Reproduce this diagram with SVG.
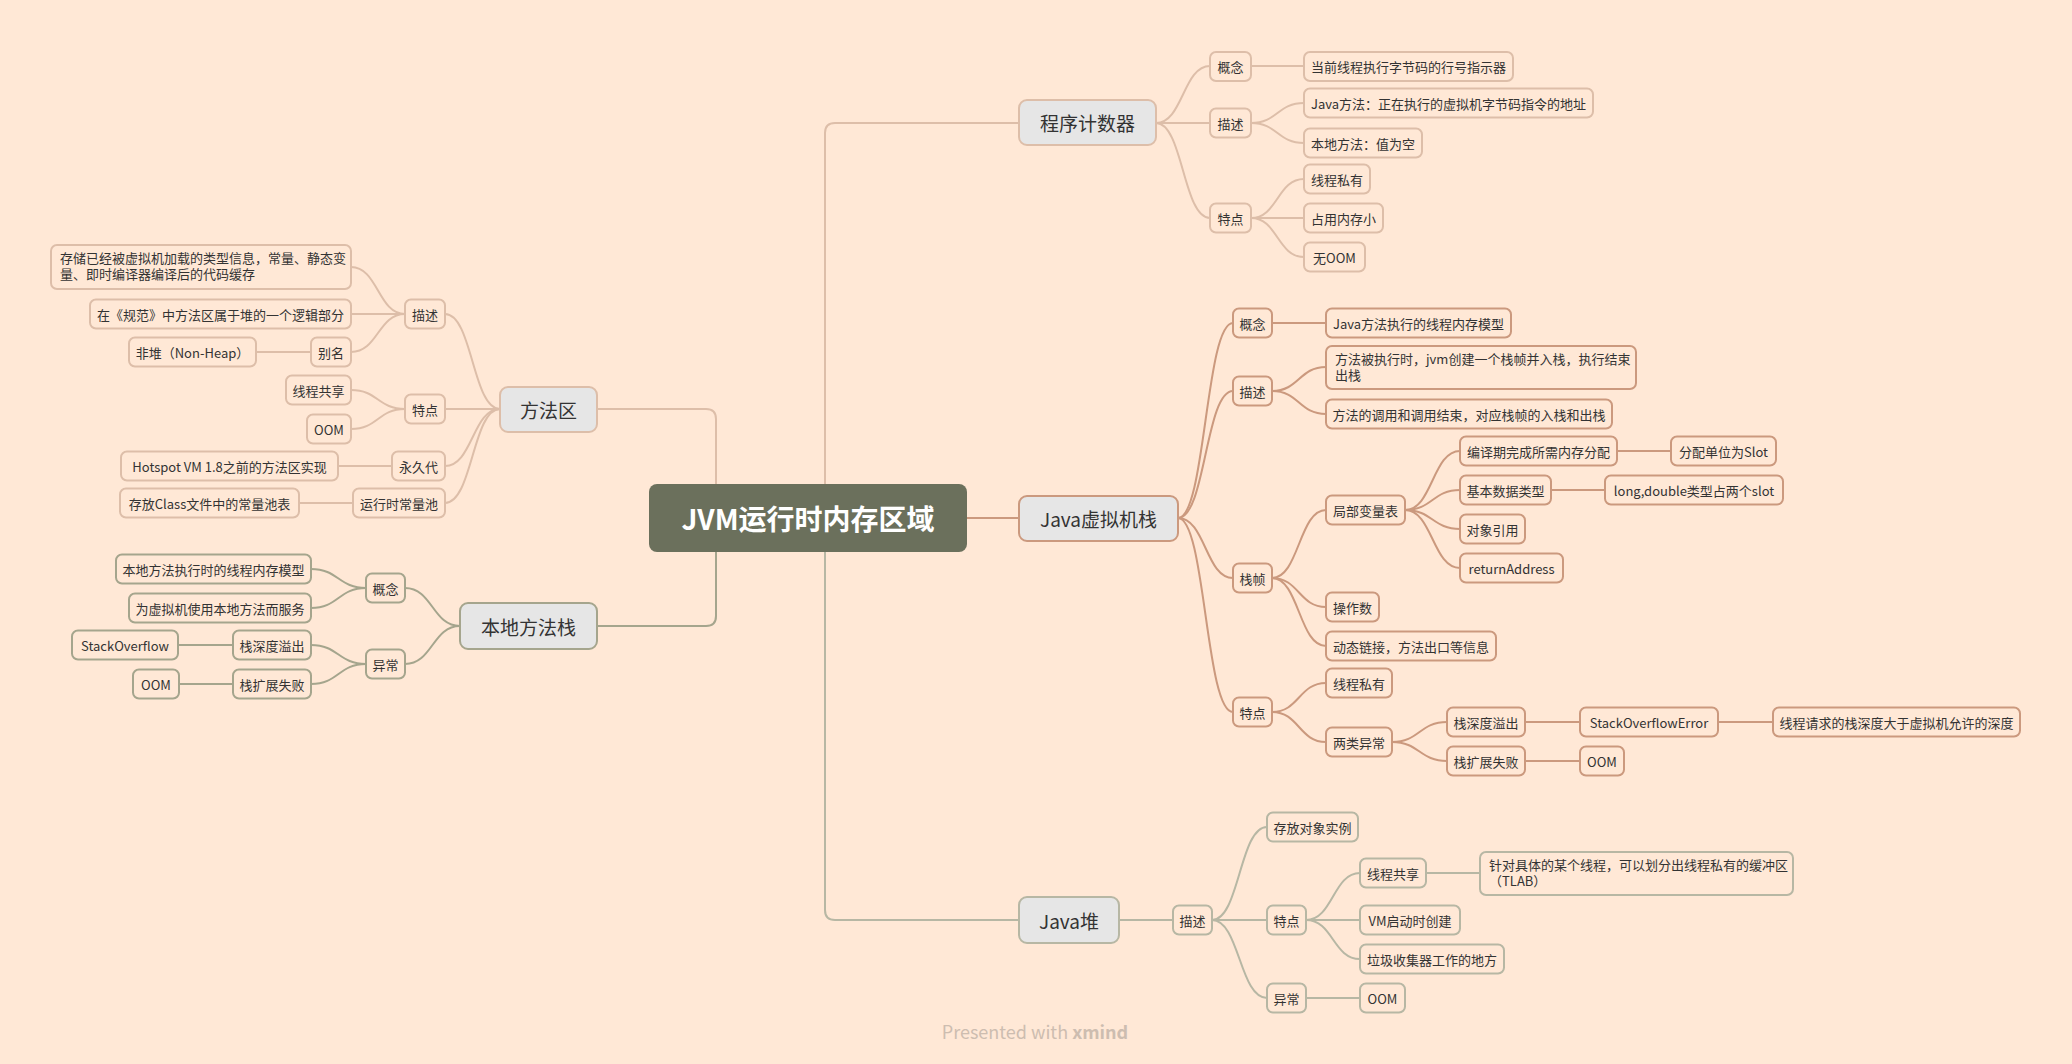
<svg xmlns="http://www.w3.org/2000/svg" width="2072" height="1064" viewBox="0 0 2072 1064">
<style>
text{font-family:"Noto Sans CJK SC","Noto Sans",sans-serif;fill:#333}
.s rect{fill:#FFE8D6;stroke-width:2}
.s text{font-size:13px;text-anchor:middle;dominant-baseline:central}
.s text.w{text-anchor:start;dominant-baseline:auto}
.m rect{fill:#E6E6E6;stroke-width:2}
.m text{font-size:19px;text-anchor:middle;dominant-baseline:central}
.tan rect{stroke:#DDBEA9}.brn rect{stroke:#CB997E}.gry rect{stroke:#B7B7A4}.olv rect{stroke:#A5A58D}
#connectors path{fill:none;stroke-width:2}
.ctan{stroke:#DDBEA9}.cbrn{stroke:#CB997E}.cgry{stroke:#B7B7A4}.colv{stroke:#A5A58D}
</style>
<rect width="2072" height="1064" fill="#FFE8D6"/>
<g id="connectors">
<g class="ctan">
<path d="M825 484V133Q825 123 835 123H1019"/>
<path d="M1156 123C1183 123 1183 66 1210 66"/>
<path d="M1156 123H1210"/>
<path d="M1156 123C1183 123 1183 218 1210 218"/>
<path d="M1251 66H1304"/>
<path d="M1251 123C1277.5 123 1277.5 103 1304 103"/>
<path d="M1251 123C1277.5 123 1277.5 143 1304 143"/>
<path d="M1251 218C1277.5 218 1277.5 179 1304 179"/>
<path d="M1251 218H1304"/>
<path d="M1251 218C1277.5 218 1277.5 257 1304 257"/>
<path d="M716 484V419Q716 409 706 409H597"/>
<path d="M500 409C472.5 409 472.5 314 445 314"/>
<path d="M500 409H445"/>
<path d="M500 409C472.5 409 472.5 466 445 466"/>
<path d="M500 409C472.5 409 472.5 503 445 503"/>
<path d="M405 314C378 314 378 267 351 267"/>
<path d="M405 314H351"/>
<path d="M405 314C378 314 378 352 351 352"/>
<path d="M311 352H256"/>
<path d="M405 409C378 409 378 390 351 390"/>
<path d="M405 409C378 409 378 429 351 429"/>
<path d="M392 466H338"/>
<path d="M353 503H299"/>
</g>
<g class="cbrn">
<path d="M967 518H1019"/>
<path d="M1178 518C1205.5 518 1205.5 323 1233 323"/>
<path d="M1178 518C1205.5 518 1205.5 391 1233 391"/>
<path d="M1178 518C1205.5 518 1205.5 578 1233 578"/>
<path d="M1178 518C1205.5 518 1205.5 712 1233 712"/>
<path d="M1272 323H1326"/>
<path d="M1272 391C1299 391 1299 367 1326 367"/>
<path d="M1272 391C1299 391 1299 414 1326 414"/>
<path d="M1272 578C1299 578 1299 510 1326 510"/>
<path d="M1272 578C1299 578 1299 607 1326 607"/>
<path d="M1272 578C1299 578 1299 646 1326 646"/>
<path d="M1405 510C1432.5 510 1432.5 451 1460 451"/>
<path d="M1405 510C1432.5 510 1432.5 490 1460 490"/>
<path d="M1405 510C1432.5 510 1432.5 529 1460 529"/>
<path d="M1405 510C1432.5 510 1432.5 568 1460 568"/>
<path d="M1617 451H1671"/>
<path d="M1551 490H1605"/>
<path d="M1272 712C1299 712 1299 683 1326 683"/>
<path d="M1272 712C1299 712 1299 742 1326 742"/>
<path d="M1392 742C1419.5 742 1419.5 722 1447 722"/>
<path d="M1392 742C1419.5 742 1419.5 761 1447 761"/>
<path d="M1525 722H1580"/>
<path d="M1718 722H1773"/>
<path d="M1525 761H1580"/>
</g>
<g class="cgry">
<path d="M825 552V910Q825 920 835 920H1019"/>
<path d="M1119 920H1173"/>
<path d="M1212 920C1239.5 920 1239.5 827 1267 827"/>
<path d="M1212 920H1267"/>
<path d="M1212 920C1239.5 920 1239.5 998 1267 998"/>
<path d="M1306 920C1333 920 1333 873 1360 873"/>
<path d="M1306 920H1360"/>
<path d="M1306 920C1333 920 1333 959 1360 959"/>
<path d="M1426 873H1480"/>
<path d="M1306 998H1360"/>
</g>
<g class="colv">
<path d="M716 552V616Q716 626 706 626H597"/>
<path d="M460 626C432.5 626 432.5 588 405 588"/>
<path d="M460 626C432.5 626 432.5 664 405 664"/>
<path d="M366 588C338.5 588 338.5 569 311 569"/>
<path d="M366 588C338.5 588 338.5 608 311 608"/>
<path d="M366 664C338.5 664 338.5 645 311 645"/>
<path d="M366 664C338.5 664 338.5 684 311 684"/>
<path d="M233 645H178"/>
<path d="M233 684H179"/>
</g>
</g>

<g id="root"><rect x="649" y="484" width="318" height="68" rx="8" fill="#6B705C"/><text x="808" y="518" font-size="28" font-weight="bold" text-anchor="middle" dominant-baseline="central" style="fill:#fff">JVM运行时内存区域</text></g>

<!-- 程序计数器 -->
<g id="pc" class="m tan"><rect x="1019" y="100" width="137" height="45" rx="8"/><text x="1087.5" y="122.5">程序计数器</text></g>
<g id="pc-concept" class="s tan"><rect x="1210" y="52" width="41" height="29" rx="6"/><text x="1230.5" y="66.5">概念</text></g>
<g id="pc-desc" class="s tan"><rect x="1210" y="108.5" width="41" height="29" rx="6"/><text x="1230.5" y="123">描述</text></g>
<g id="pc-feat" class="s tan"><rect x="1210" y="203.5" width="41" height="29" rx="6"/><text x="1230.5" y="218">特点</text></g>
<g id="pc-c1" class="s tan"><rect x="1304" y="52" width="209" height="29" rx="6"/><text x="1408.5" y="66.5">当前线程执行字节码的行号指示器</text></g>
<g id="pc-d1" class="s tan"><rect x="1304" y="88.5" width="289" height="29" rx="6"/><text x="1448.5" y="103">Java方法：正在执行的虚拟机字节码指令的地址</text></g>
<g id="pc-d2" class="s tan"><rect x="1304" y="128.5" width="118" height="29" rx="6"/><text x="1363" y="143">本地方法：值为空</text></g>
<g id="pc-f1" class="s tan"><rect x="1304" y="164.5" width="66" height="29" rx="6"/><text x="1337" y="179">线程私有</text></g>
<g id="pc-f2" class="s tan"><rect x="1304" y="203.5" width="79" height="29" rx="6"/><text x="1343.5" y="218">占用内存小</text></g>
<g id="pc-f3" class="s tan"><rect x="1304" y="242.5" width="61" height="29" rx="6"/><text x="1334.5" y="257">无OOM</text></g>

<!-- Java虚拟机栈 -->
<g id="jvms" class="m brn"><rect x="1019" y="496" width="159" height="45" rx="8"/><text x="1098.5" y="518.5">Java虚拟机栈</text></g>
<g id="jvms-concept" class="s brn"><rect x="1233" y="308.5" width="39" height="29" rx="6"/><text x="1252.5" y="323">概念</text></g>
<g id="jvms-c1" class="s brn"><rect x="1326" y="308.5" width="185" height="29" rx="6"/><text x="1418.5" y="323">Java方法执行的线程内存模型</text></g>
<g id="jvms-desc" class="s brn"><rect x="1233" y="376.5" width="39" height="29" rx="6"/><text x="1252.5" y="391">描述</text></g>
<g id="jvms-d1" class="s brn"><rect x="1326" y="346" width="310" height="43" rx="6"/><text class="w" x="1335" y="364">方法被执行时，jvm创建一个栈帧并入栈，执行结束</text><text class="w" x="1335" y="380">出栈</text></g>
<g id="jvms-d2" class="s brn"><rect x="1326" y="399.5" width="286" height="29" rx="6"/><text x="1469" y="414">方法的调用和调用结束，对应栈帧的入栈和出栈</text></g>
<g id="jvms-frame" class="s brn"><rect x="1233" y="563.5" width="39" height="29" rx="6"/><text x="1252.5" y="578">栈帧</text></g>
<g id="jvms-lvt" class="s brn"><rect x="1326" y="495.5" width="79" height="29" rx="6"/><text x="1365.5" y="510">局部变量表</text></g>
<g id="jvms-lvt1" class="s brn"><rect x="1460" y="436.5" width="157" height="29" rx="6"/><text x="1538.5" y="451">编译期完成所需内存分配</text></g>
<g id="jvms-lvt1a" class="s brn"><rect x="1671" y="436.5" width="105" height="29" rx="6"/><text x="1723.5" y="451">分配单位为Slot</text></g>
<g id="jvms-lvt2" class="s brn"><rect x="1460" y="475.5" width="91" height="29" rx="6"/><text x="1505.5" y="490">基本数据类型</text></g>
<g id="jvms-lvt2a" class="s brn"><rect x="1605" y="475.5" width="178" height="29" rx="6"/><text x="1694" y="490">long,double类型占两个slot</text></g>
<g id="jvms-lvt3" class="s brn"><rect x="1460" y="514.5" width="65" height="29" rx="6"/><text x="1492.5" y="529">对象引用</text></g>
<g id="jvms-lvt4" class="s brn"><rect x="1460" y="553.5" width="103" height="29" rx="6"/><text x="1511.5" y="568">returnAddress</text></g>
<g id="jvms-op" class="s brn"><rect x="1326" y="592.5" width="53" height="29" rx="6"/><text x="1352.5" y="607">操作数</text></g>
<g id="jvms-dyn" class="s brn"><rect x="1326" y="631.5" width="170" height="29" rx="6"/><text x="1411" y="646">动态链接，方法出口等信息</text></g>
<g id="jvms-feat" class="s brn"><rect x="1233" y="697.5" width="39" height="29" rx="6"/><text x="1252.5" y="712">特点</text></g>
<g id="jvms-f1" class="s brn"><rect x="1326" y="668.5" width="66" height="29" rx="6"/><text x="1359" y="683">线程私有</text></g>
<g id="jvms-f2" class="s brn"><rect x="1326" y="727.5" width="66" height="29" rx="6"/><text x="1359" y="742">两类异常</text></g>
<g id="jvms-e1" class="s brn"><rect x="1447" y="707.5" width="78" height="29" rx="6"/><text x="1486" y="722">栈深度溢出</text></g>
<g id="jvms-e1a" class="s brn"><rect x="1580" y="707.5" width="138" height="29" rx="6"/><text x="1649" y="722">StackOverflowError</text></g>
<g id="jvms-e1b" class="s brn"><rect x="1773" y="707.5" width="247" height="29" rx="6"/><text x="1896.5" y="722">线程请求的栈深度大于虚拟机允许的深度</text></g>
<g id="jvms-e2" class="s brn"><rect x="1447" y="746.5" width="78" height="29" rx="6"/><text x="1486" y="761">栈扩展失败</text></g>
<g id="jvms-e2a" class="s brn"><rect x="1580" y="746.5" width="44" height="29" rx="6"/><text x="1602" y="761">OOM</text></g>

<!-- Java堆 -->
<g id="heap" class="m gry"><rect x="1019" y="897" width="100" height="46" rx="8"/><text x="1069" y="920">Java堆</text></g>
<g id="heap-desc" class="s gry"><rect x="1173" y="905.5" width="39" height="29" rx="6"/><text x="1192.5" y="920">描述</text></g>
<g id="heap-d1" class="s gry"><rect x="1267" y="812.5" width="91" height="29" rx="6"/><text x="1312.5" y="827">存放对象实例</text></g>
<g id="heap-feat" class="s gry"><rect x="1267" y="905.5" width="39" height="29" rx="6"/><text x="1286.5" y="920">特点</text></g>
<g id="heap-f1" class="s gry"><rect x="1360" y="858.5" width="66" height="29" rx="6"/><text x="1393" y="873">线程共享</text></g>
<g id="heap-f1a" class="s gry"><rect x="1480" y="852" width="313" height="43" rx="6"/><text class="w" x="1489" y="870">针对具体的某个线程，可以划分出线程私有的缓冲区</text><text class="w" x="1489" y="886">（TLAB）</text></g>
<g id="heap-f2" class="s gry"><rect x="1360" y="905.5" width="100" height="29" rx="6"/><text x="1410" y="920">VM启动时创建</text></g>
<g id="heap-f3" class="s gry"><rect x="1360" y="944.5" width="144" height="29" rx="6"/><text x="1432" y="959">垃圾收集器工作的地方</text></g>
<g id="heap-exc" class="s gry"><rect x="1267" y="983.5" width="39" height="29" rx="6"/><text x="1286.5" y="998">异常</text></g>
<g id="heap-oom" class="s gry"><rect x="1360" y="983.5" width="45" height="29" rx="6"/><text x="1382.5" y="998">OOM</text></g>

<!-- 方法区 -->
<g id="ma" class="m tan"><rect x="500" y="387" width="97" height="45" rx="8"/><text x="548.5" y="409.5">方法区</text></g>
<g id="ma-desc" class="s tan"><rect x="405" y="299.5" width="40" height="29" rx="6"/><text x="425" y="314">描述</text></g>
<g id="ma-d1" class="s tan"><rect x="51" y="245" width="300" height="44" rx="6"/><text class="w" x="60" y="263">存储已经被虚拟机加载的类型信息，常量、静态变</text><text class="w" x="60" y="279">量、即时编译器编译后的代码缓存</text></g>
<g id="ma-d2" class="s tan"><rect x="90" y="299.5" width="261" height="29" rx="6"/><text x="220.5" y="314">在《规范》中方法区属于堆的一个逻辑部分</text></g>
<g id="ma-alias" class="s tan"><rect x="311" y="337.5" width="40" height="29" rx="6"/><text x="331" y="352">别名</text></g>
<g id="ma-alias1" class="s tan"><rect x="129" y="337.5" width="127" height="29" rx="6"/><text x="192.5" y="352">非堆（Non-Heap）</text></g>
<g id="ma-feat" class="s tan"><rect x="405" y="394.5" width="40" height="29" rx="6"/><text x="425" y="409">特点</text></g>
<g id="ma-f1" class="s tan"><rect x="286" y="375.5" width="65" height="29" rx="6"/><text x="318.5" y="390">线程共享</text></g>
<g id="ma-f2" class="s tan"><rect x="307" y="414.5" width="44" height="29" rx="6"/><text x="329" y="429">OOM</text></g>
<g id="ma-perm" class="s tan"><rect x="392" y="451.5" width="53" height="29" rx="6"/><text x="418.5" y="466">永久代</text></g>
<g id="ma-perm1" class="s tan"><rect x="121" y="451.5" width="217" height="29" rx="6"/><text x="229.5" y="466">Hotspot VM 1.8之前的方法区实现</text></g>
<g id="ma-rcp" class="s tan"><rect x="353" y="488.5" width="92" height="29" rx="6"/><text x="399" y="503">运行时常量池</text></g>
<g id="ma-rcp1" class="s tan"><rect x="120" y="488.5" width="179" height="29" rx="6"/><text x="209.5" y="503">存放Class文件中的常量池表</text></g>

<!-- 本地方法栈 -->
<g id="nms" class="m olv"><rect x="460" y="603" width="137" height="46" rx="8"/><text x="528.5" y="626">本地方法栈</text></g>
<g id="nms-concept" class="s olv"><rect x="366" y="573.5" width="39" height="29" rx="6"/><text x="385.5" y="588">概念</text></g>
<g id="nms-c1" class="s olv"><rect x="116" y="554.5" width="195" height="29" rx="6"/><text x="213.5" y="569">本地方法执行时的线程内存模型</text></g>
<g id="nms-c2" class="s olv"><rect x="129" y="593.5" width="182" height="29" rx="6"/><text x="220" y="608">为虚拟机使用本地方法而服务</text></g>
<g id="nms-exc" class="s olv"><rect x="366" y="649.5" width="39" height="29" rx="6"/><text x="385.5" y="664">异常</text></g>
<g id="nms-e1" class="s olv"><rect x="233" y="630.5" width="78" height="29" rx="6"/><text x="272" y="645">栈深度溢出</text></g>
<g id="nms-e1a" class="s olv"><rect x="72" y="630.5" width="106" height="29" rx="6"/><text x="125" y="645">StackOverflow</text></g>
<g id="nms-e2" class="s olv"><rect x="233" y="669.5" width="78" height="29" rx="6"/><text x="272" y="684">栈扩展失败</text></g>
<g id="nms-e2a" class="s olv"><rect x="133" y="669.5" width="46" height="29" rx="6"/><text x="156" y="684">OOM</text></g>

<text x="1035" y="1039" font-family="'Open Sans','Noto Sans',sans-serif" font-size="18" text-anchor="middle" style="fill:#CDBDB0">Presented with <tspan font-weight="bold">xmind</tspan></text>
</svg>
